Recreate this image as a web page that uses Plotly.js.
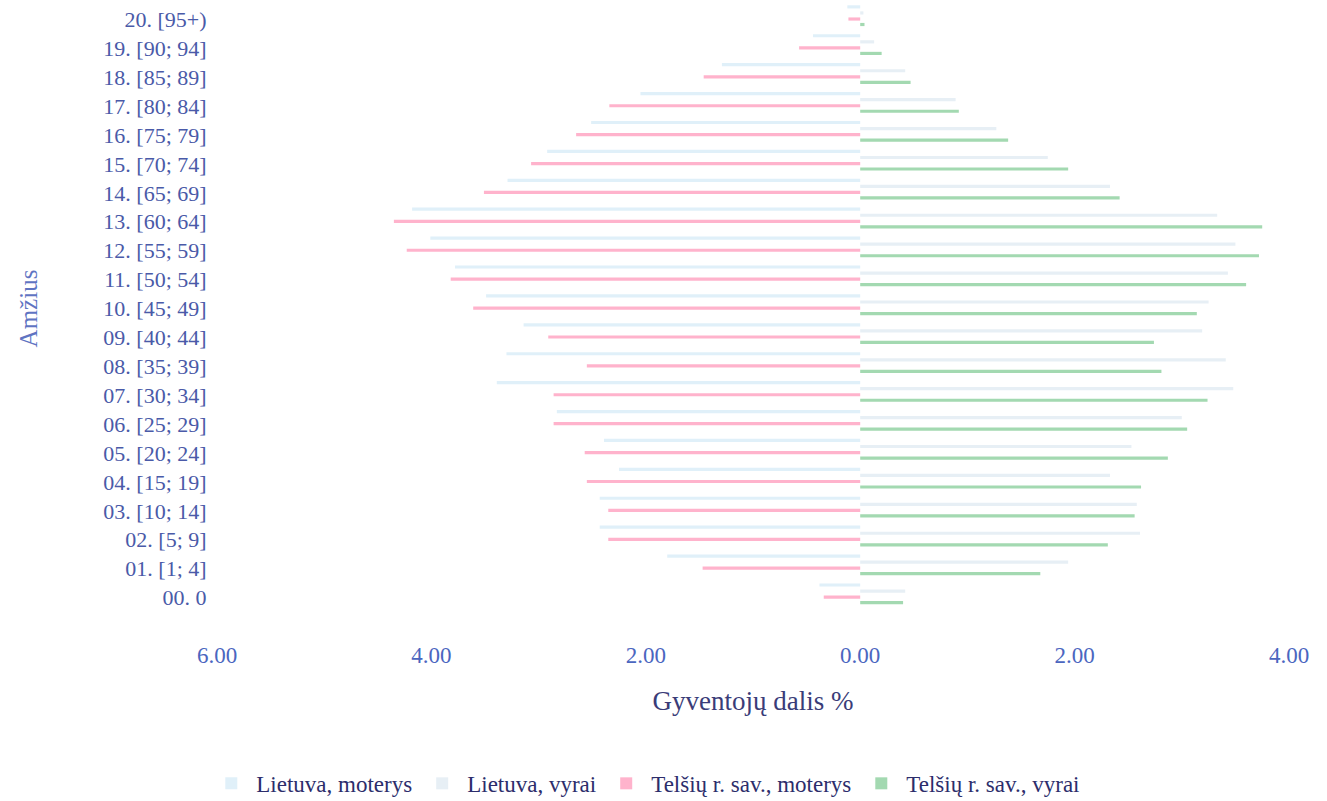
<!DOCTYPE html>
<html>
<head>
<meta charset="utf-8">
<script src="https://cdn.plot.ly/plotly-3.0.1.min.js"></script>
<style>html,body{margin:0;padding:0;background:#fff;}#chart{width:1327px;height:801px;}</style>
</head>
<body>
<div id="chart"></div>
<script>
// Age groups (bottom to top)
var categories = ["00. 0","01. [1; 4]","02. [5; 9]","03. [10; 14]","04. [15; 19]","05. [20; 24]","06. [25; 29]","07. [30; 34]","08. [35; 39]","09. [40; 44]","10. [45; 49]","11. [50; 54]","12. [55; 59]","13. [60; 64]","14. [65; 69]","15. [70; 74]","16. [75; 79]","17. [80; 84]","18. [85; 89]","19. [90; 94]","20. [95+)"];
// Share of population, %
var ltFemale  = [0.38,1.80,2.43,2.43,2.25,2.39,2.83,3.39,3.30,3.14,3.49,3.78,4.01,4.18,3.29,2.92,2.51,2.05,1.29,0.44,0.12];
var ltMale    = [0.42,1.94,2.61,2.58,2.33,2.53,3.00,3.48,3.41,3.19,3.25,3.43,3.50,3.33,2.33,1.75,1.27,0.89,0.42,0.13,0.03];
var telFemale = [0.34,1.47,2.35,2.35,2.55,2.57,2.86,2.86,2.55,2.91,3.61,3.82,4.23,4.35,3.51,3.07,2.65,2.34,1.46,0.57,0.11];
var telMale   = [0.40,1.68,2.31,2.56,2.62,2.87,3.05,3.24,2.81,2.74,3.14,3.60,3.72,3.75,2.42,1.94,1.38,0.92,0.47,0.20,0.04];
var seriesNames = ["Lietuva, moterys","Lietuva, vyrai","Telšių r. sav., moterys","Telšių r. sav., vyrai"];
var tickVals = [-6,-4,-2,0,2,4];
var tickText = ["6.00","4.00","2.00","0.00","2.00","4.00"];

function neg(a){ return a.map(function(v){ return -v; }); }
function fmt(a){ return a.map(function(v){ return v.toFixed(2) + " %"; }); }

var serif = "Liberation Serif, Times New Roman, serif";

var traces = [
  {name: seriesNames[0], x: neg(ltFemale), y: categories, color: "#e0f0f9", off: -0.49, text: fmt(ltFemale)},
  {name: seriesNames[1], x: ltMale, y: categories, color: "#e7eff5", off: -0.28, text: fmt(ltMale)},
  {name: seriesNames[2], x: neg(telFemale), y: categories, color: "#ffb3cc", off: -0.07, text: fmt(telFemale)},
  {name: seriesNames[3], x: telMale, y: categories, color: "#a3d9b1", off: 0.12, text: fmt(telMale)}
].map(function(t){
  return {
    type: "bar", orientation: "h", name: t.name, x: t.x, y: t.y,
    offset: t.off, width: 0.11,
    marker: {color: t.color, line: {width: 0}},
    hovertext: t.text, hoverinfo: "name+y+text"
  };
});

var layout = {
  width: 1327, height: 801,
  margin: {l: 217, r: 38, t: 5, b: 189},
  paper_bgcolor: "#ffffff", plot_bgcolor: "#ffffff",
  barmode: "overlay",
  showlegend: true,
  legend: {
    orientation: "h", x: 0.40, xanchor: "center",
    yref: "container", y: 0.022, yanchor: "middle",
    font: {family: serif, size: 23, color: "#2c2d6b"},
    itemwidth: 40
  },
  xaxis: {
    range: [-6, 4],
    tickvals: tickVals, ticktext: tickText,
    ticks: "outside", ticklen: 22, tickcolor: "rgba(0,0,0,0)",
    showgrid: false, zeroline: false, showline: false,
    tickfont: {family: serif, size: 23, color: "#4b66bf"},
    title: {text: "Gyventojų dalis %", font: {family: serif, size: 27, color: "#3a3c78"}, standoff: 24},
    automargin: false, fixedrange: true
  },
  yaxis: {
    type: "category",
    categoryorder: "array", categoryarray: categories.slice().reverse(),
    range: [20.5, -0.5],
    ticks: "outside", ticklen: 5, tickcolor: "rgba(0,0,0,0)",
    showgrid: false, zeroline: false, showline: false,
    tickfont: {family: serif, size: 22, color: "#4a5aa8"},
    title: {text: "Amžius", font: {family: serif, size: 25, color: "#5f74c2"}, standoff: 58},
    automargin: false, fixedrange: true
  }
};

Plotly.newPlot("chart", traces, layout, {displayModeBar: false, responsive: false});
</script>
</body>
</html>
